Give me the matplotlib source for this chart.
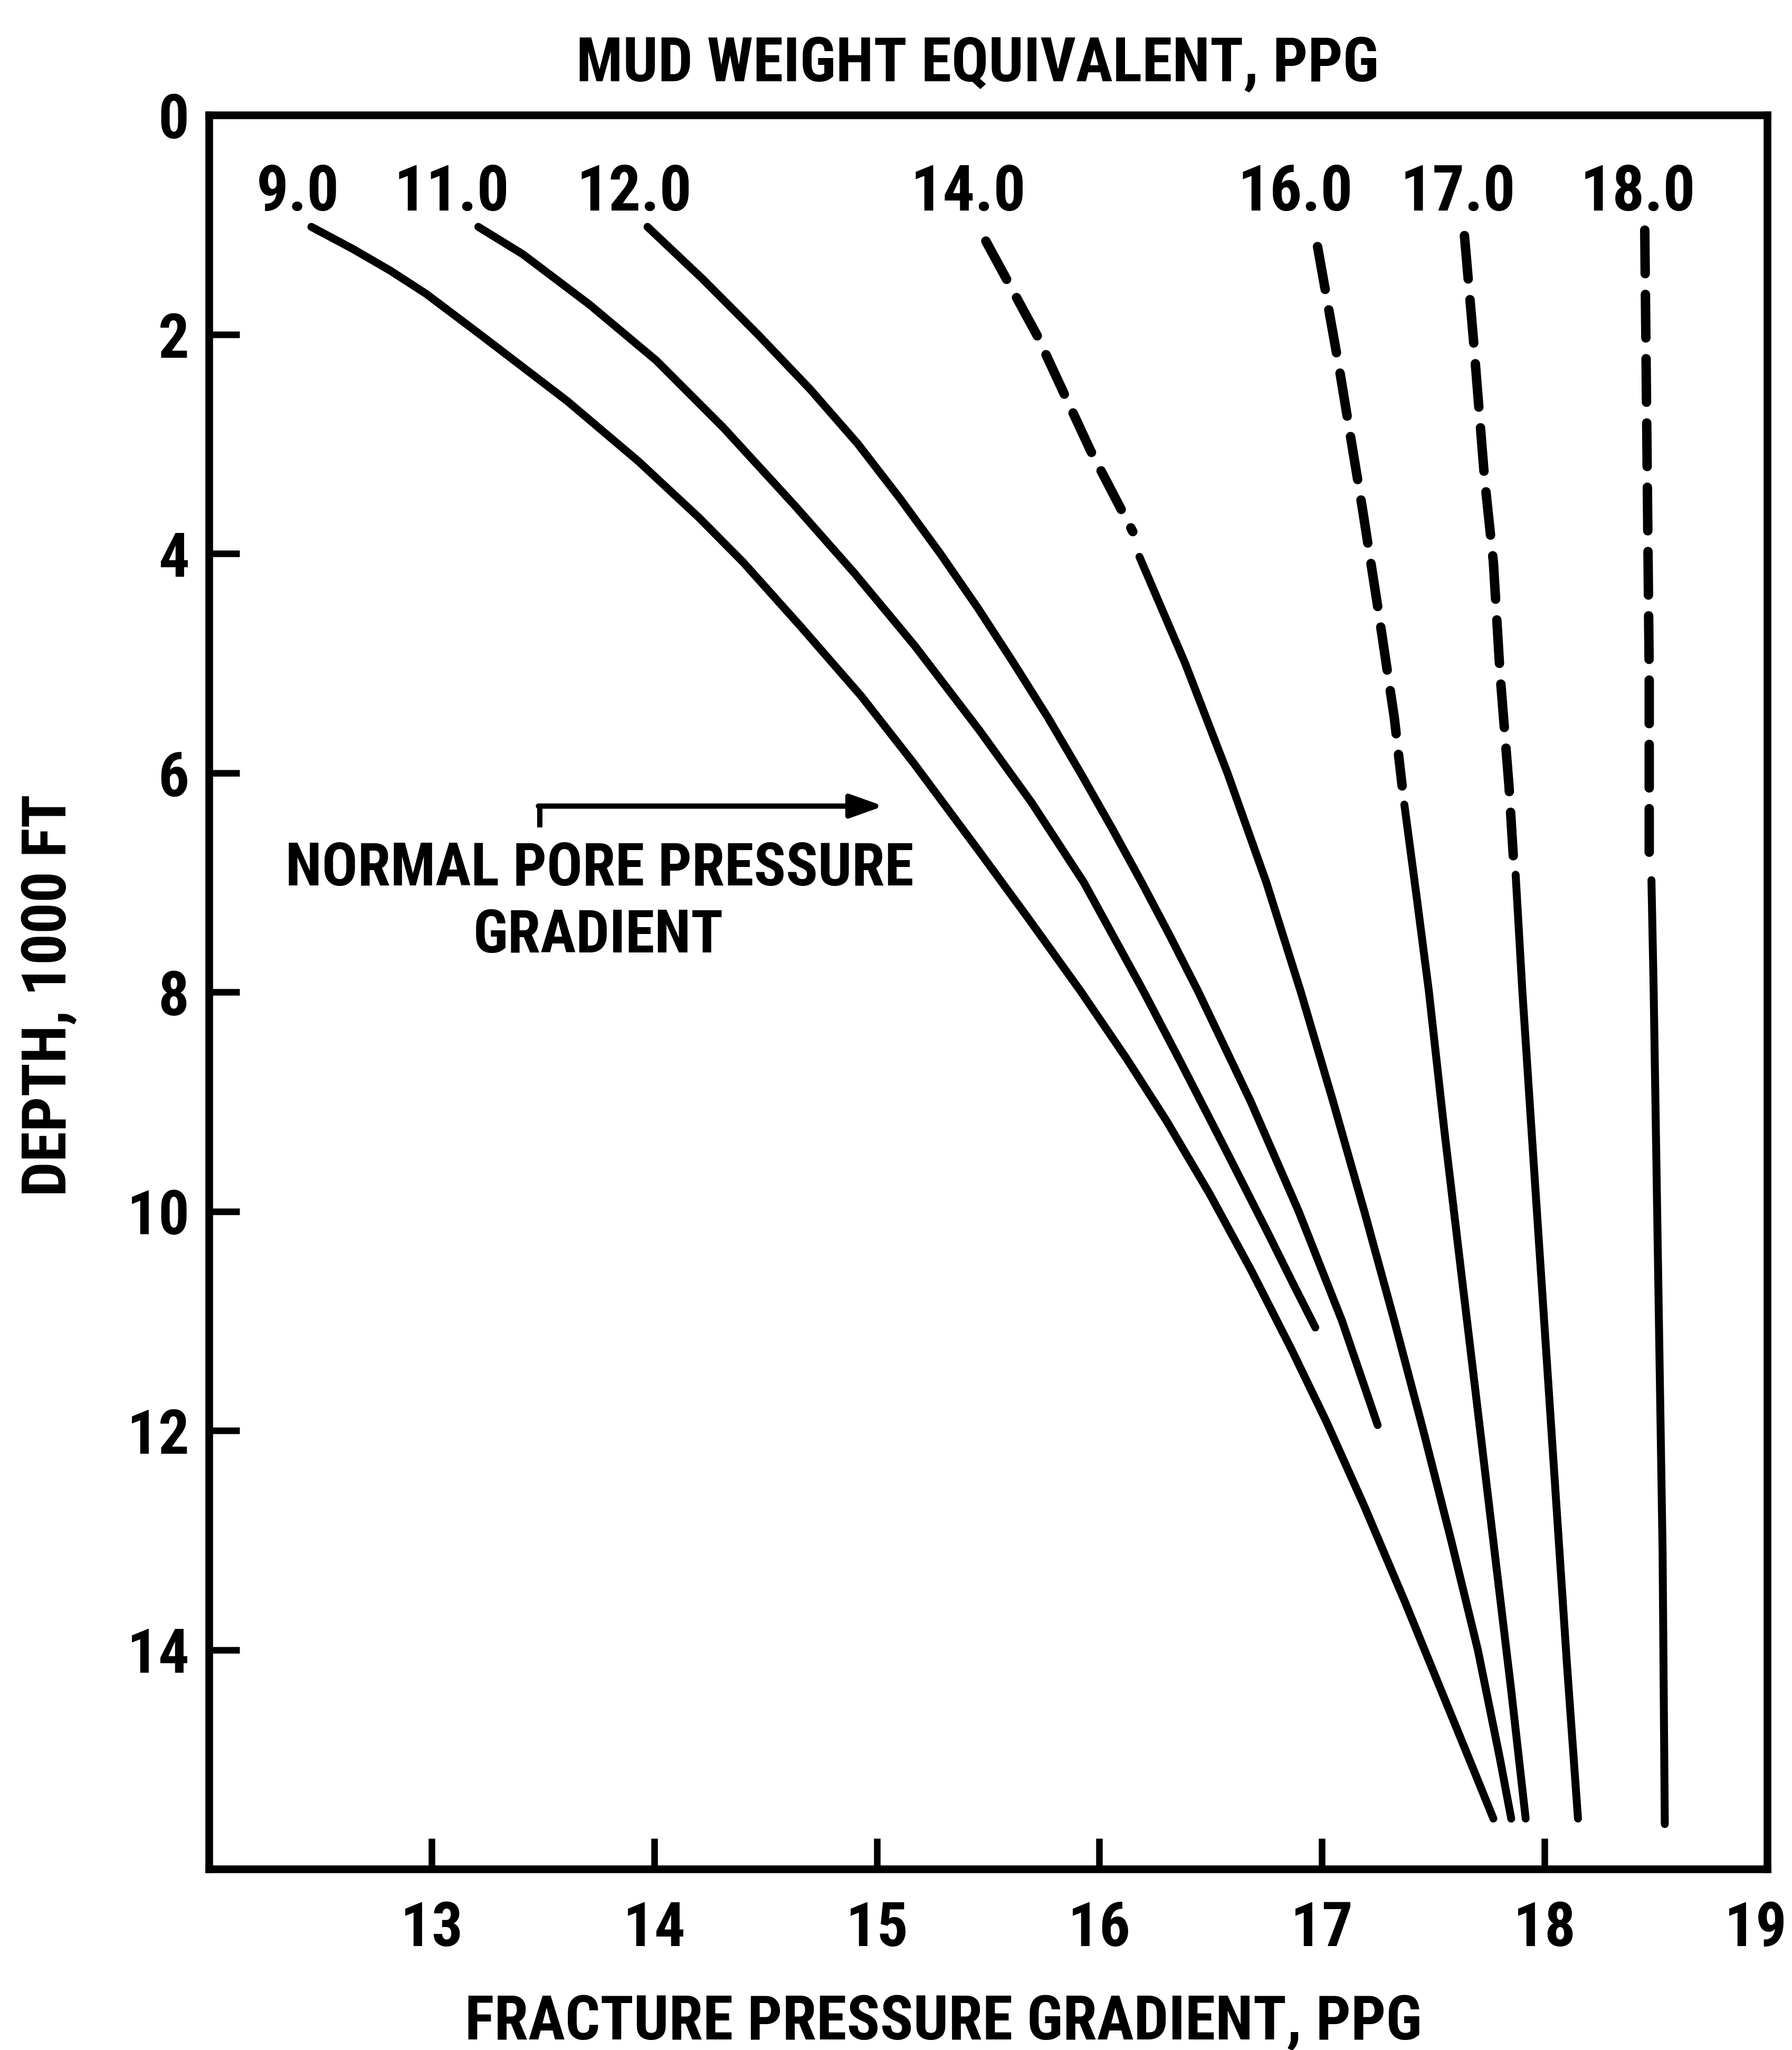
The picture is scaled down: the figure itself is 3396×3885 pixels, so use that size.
import matplotlib
matplotlib.use("Agg")
import matplotlib.pyplot as plt
from matplotlib import font_manager as fm
from matplotlib.transforms import ScaledTranslation

# ── fonts: the scan uses a condensed grotesque; take a narrow face if any ────
def _is_narrow(e):
    s, n = str(e.stretch).lower(), e.name.lower()
    if isinstance(e.stretch, (int, float)) and e.stretch < 500:
        return True
    return any(k in s or k in n for k in ("condensed", "narrow"))

_narrow = [e for e in fm.fontManager.ttflist if _is_narrow(e)]
_pref = ["Liberation Sans Narrow", "Roboto Condensed", "Noto Sans", "Open Sans",
         "DejaVu Sans"]
_narrow.sort(key=lambda e: (_pref.index(e.name) if e.name in _pref else 99,
                            e.weight != 700))
if _narrow:
    FONT, STRETCH, FS = _narrow[0].name, "condensed", 28
else:
    FONT, STRETCH, FS = "Liberation Sans", "normal", 24

plt.rcParams["font.family"] = [FONT, "DejaVu Sans"]
plt.rcParams["font.stretch"] = STRETCH
plt.rcParams["font.weight"] = "bold"

# ── curves: fracture gradient [ppg] vs depth [1000 ft] ────
mw_labels = ["9.0", "11.0", "12.0", "14.0", "16.0", "17.0", "18.0"]
label_x = [12.40, 13.09, 13.91, 15.41, 16.88, 17.61, 18.42]

fg_9 = [12.46, 12.645, 12.815, 12.975, 13.23, 13.61, 13.93, 14.20, 14.40, 14.66,
        14.93, 15.165, 15.465, 15.685, 15.915, 16.123, 16.30, 16.495, 16.685, 16.863,
        17.02, 17.19, 17.372, 17.515, 17.668, 17.77]
depth_9 = [1.02, 1.22, 1.42, 1.63, 2.02, 2.61, 3.16, 3.67, 4.08, 4.67,
           5.30, 5.91, 6.73, 7.34, 7.99, 8.61, 9.17, 9.84, 10.55, 11.26,
           11.92, 12.69, 13.56, 14.27, 15.03, 15.54]

fg_11 = [13.21, 13.41, 13.71, 14.01, 14.31, 14.635, 14.90, 15.17, 15.46, 15.695,
         15.93, 16.20, 16.365, 16.565, 16.755, 16.88, 16.97]
depth_11 = [1.02, 1.27, 1.73, 2.24, 2.85, 3.57, 4.18, 4.84, 5.61, 6.27,
            7.00, 8.00, 8.64, 9.43, 10.19, 10.70, 11.06]

fg_12 = [13.97, 14.22, 14.465, 14.70, 14.915, 15.105, 15.285, 15.455, 15.615, 15.77,
         15.915, 16.055, 16.19, 16.32, 16.445, 16.68, 16.895, 17.09, 17.25]
depth_12 = [1.02, 1.5, 2.0, 2.5, 3.0, 3.5, 4.0, 4.5, 5.0, 5.5,
            6.0, 6.5, 7.0, 7.5, 8.0, 9.0, 10.0, 11.0, 11.95]

fg_14 = [15.49, 15.72, 15.96, 16.15, 16.18, 16.385, 16.575, 16.75, 16.905, 17.05,
         17.19, 17.325, 17.455, 17.58, 17.70, 17.80, 17.85]
depth_14 = [1.15, 2.01, 3.06, 3.80, 4.03, 5.0, 6.0, 7.0, 8.0, 9.0,
            10.0, 11.0, 12.0, 13.0, 14.0, 15.0, 15.54]

fg_16 = [16.98, 17.08, 17.18, 17.25, 17.325, 17.36, 17.37, 17.425, 17.48, 17.55,
         17.625, 17.70, 17.775, 17.85, 17.915]
depth_16 = [1.20, 2.34, 3.57, 4.48, 5.50, 6.12, 6.29, 7.13, 7.99, 9.27,
            10.55, 11.82, 13.10, 14.37, 15.54]

fg_17 = [17.64, 17.68, 17.73, 17.77, 17.80, 17.84, 17.86, 17.87, 17.90, 17.95,
         18.00, 18.05, 18.10, 18.15]
depth_17 = [1.10, 2.04, 3.31, 4.08, 5.10, 6.12, 6.78, 6.93, 7.99, 9.53,
            11.06, 12.59, 14.12, 15.54]

fg_18 = [18.45, 18.46, 18.47, 18.47, 18.48, 18.49, 18.51, 18.53, 18.54]
depth_18 = [1.05, 3.06, 5.10, 6.78, 6.98, 7.99, 10.55, 13.10, 15.59]

curves_x = [fg_9, fg_11, fg_12, fg_14, fg_16, fg_17, fg_18]
curves_y = [depth_9, depth_11, depth_12, depth_14, depth_16, depth_17, depth_18]
# index of the first point of the solid part; points before it are dashed
solid_from = [0, 0, 0, 4, 6, 7, 4]

x_ticks = [13, 14, 15, 16, 17, 18, 19]
y_ticks = [0, 2, 4, 6, 8, 10, 12, 14]

# ── figure ───────────────────────────────────────────────────────────────────
W, H = 3396, 3885
fig = plt.figure(figsize=(W / 300, H / 300), dpi=300)
ax = fig.add_axes([396 / W, 1 - 3542 / H, (3349 - 396) / W, (3542 - 218) / H])

for xs, ys, k in zip(curves_x, curves_y, solid_from):
    if k > 0:
        ax.plot(xs[:k], ys[:k], color="black", lw=4.3, dashes=(4.6, 2.2),
                dash_capstyle="round")
    ax.plot(xs[k:], ys[k:], color="black", lw=3.6, solid_capstyle="round",
            solid_joinstyle="round")

for lab, lx in zip(mw_labels, label_x):
    ax.text(lx, 0.87, lab, ha="center", va="baseline", fontsize=FS + 1)

# annotation with elbow arrow
ax.text(13.756, 7.03, "NORMAL PORE PRESSURE", ha="center", va="baseline",
        fontsize=FS - 1)
ax.text(13.75, 7.64, "GRADIENT", ha="center", va="baseline", fontsize=FS - 1)
ax.plot([13.486, 13.486], [6.50, 6.304], color="black", lw=2.4, solid_capstyle="butt")
ax.annotate("", xy=(15.03, 6.304), xytext=(13.48, 6.304),
            arrowprops=dict(arrowstyle="-|>,head_length=0.42,head_width=0.15",
                            mutation_scale=30, lw=2.4, color="black",
                            shrinkA=0, shrinkB=0))

ax.set_xlim(12, 19)
ax.set_ylim(16, 0)
ax.set_xticks(x_ticks)
ax.set_yticks(y_ticks)
ax.tick_params(direction="in", length=14, width=3, labelsize=FS, color="black")
ax.tick_params(axis="x", pad=14)
ax.tick_params(axis="y", pad=9)
for s in ax.spines.values():
    s.set_linewidth(3.5)

# the "19" sits a little inside the frame corner in the original
last = ax.get_xticklabels()[-1]
last.set_transform(last.get_transform() + ScaledTranslation(-22 / 300, 0, fig.dpi_scale_trans))

fig.text(1853 / W, 1 - 154 / H, "MUD WEIGHT EQUIVALENT, PPG",
         ha="center", va="baseline", fontsize=FS)
fig.text(1788 / W, 1 - 3865 / H, "FRACTURE PRESSURE GRADIENT, PPG",
         ha="center", va="baseline", fontsize=FS)
fig.text(125 / W, 1 - 1886 / H, "DEPTH, 1000 FT", rotation=90,
         rotation_mode="anchor", ha="center", va="baseline", fontsize=FS)

fig.savefig("out.png", dpi=300, facecolor="white")
